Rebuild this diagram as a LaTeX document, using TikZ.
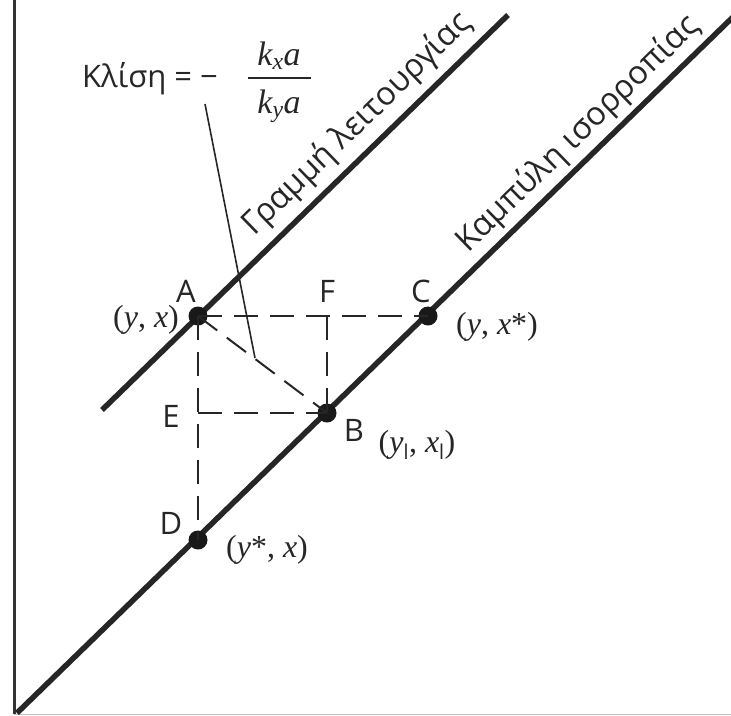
\documentclass[tikz,border=0pt]{standalone}
\usepackage{fontspec}
\setmainfont{Open Sans}
\newfontfamily\serifit{Liberation Serif}
\newcommand{\vi}[1]{{\serifit\itshape #1}}
\newcommand{\vr}[1]{{\serifit #1}}
\begin{document}
\begin{tikzpicture}[x=1pt,y=-1pt,
  thickline/.style={line width=5.5pt, color=black!85},
  axisline/.style={line width=3pt, color=black!80},
  dashline/.style={line width=2pt, dash pattern=on 24pt off 12pt, color=black!85},
  pointer/.style={line width=1.6pt, color=black!85},
  fracbar/.style={line width=2.4pt, color=black!85},
  dotnode/.style={circle, fill=black!90, inner sep=0pt, minimum size=19pt},
  lbl/.style={font=\fontsize{31}{37}\selectfont, inner sep=0pt, text=black!85},
  rlbl/.style={font=\fontsize{32.5}{38}\selectfont, inner sep=0pt, text=black!85, rotate=44.2},
  mlbl/.style={font=\fontsize{32}{38}\selectfont, inner sep=0pt, text=black!85},
  flbl/.style={font=\fontsize{34}{40}\selectfont, inner sep=0pt, text=black!85}]
\useasboundingbox (0,0) rectangle (731,715);
% axes
\coordinate (ax0) at (14,0);
\coordinate (ax1) at (14,714);
\coordinate (bx1) at (731,714);
\draw[axisline] (ax0) -- (ax1);
\draw[line width=1pt, color=black!25] (ax1) -- (bx1);
% main lines
\coordinate (eq0) at (17,713);
\coordinate (eq1) at (733,17);
\coordinate (op0) at (102,410);
\coordinate (op1) at (508,15);
\draw[thickline] (eq0) -- (eq1);
\draw[thickline] (op0) -- (op1);
% points
\coordinate (Fc) at (327,316);
\coordinate (Ec) at (198,413);
\coordinate (ptr) at (255,358);
\node[dotnode] (A) at (198,316) {};
\node[dotnode] (C) at (428,316) {};
\node[dotnode] (B) at (327,413) {};
\node[dotnode] (D) at (198,540) {};
% dashed construction
\draw[dashline] (A.center) -- (C.center);
\draw[dashline] (A.center) -- (D.center);
\draw[dashline] (A.center) -- (B.center);
\draw[dashline] (Fc) -- (B.center);
\draw[dashline] (Ec) -- (B.center);
% slope label and pointer
\node[lbl, anchor=base west] (slope) at (82,87) {Κλίση = −};
\node[flbl] (num) at (279,56) {\vi{k}\textsubscript{\vi{x}}\vi{a}};
\node[flbl] (den) at (279,106) {\vi{k}\textsubscript{\vi{y}}\vi{a}};
\coordinate (fb0) at (248,78);
\coordinate (fb1) at (311,78);
\draw[fracbar] (fb0) -- (fb1);
\coordinate (ptop) at (205,104);
\draw[pointer] (ptop) -- (ptr);
% rotated labels
\node[rlbl] (oplbl) at (357,124) {Γραμμή λειτουργίας};
\node[rlbl] (eqlbl) at (578,134) {Καμπύλη ισορροπίας};
% point letters
\node[lbl] (Al) at (186,291) {A};
\node[lbl] (Cl) at (421,291) {C};
\node[lbl] (Fl) at (327,291) {F};
\node[lbl] (El) at (171,416) {E};
\node[lbl] (Bl) at (354,430) {B};
\node[lbl] (Dl) at (171,523) {D};
% coordinate labels
\node[mlbl] (Am) at (146,320) {\vr{(}\vi{y}\vr{, }\vi{x}\vr{)}};
\node[mlbl] (Cm) at (497,327) {\vr{(}\vi{y}\vr{, }\vi{x}\vr{*)}};
\node[mlbl] (Bm) at (417,445) {\vr{(}\vi{y}\textsubscript{\sffamily l}\vr{, }\vi{x}\textsubscript{\sffamily l}\vr{)}};
\node[mlbl] (Dm) at (267,550) {\vr{(}\vi{y}\vr{*, }\vi{x}\vr{)}};
\end{tikzpicture}
\end{document}
